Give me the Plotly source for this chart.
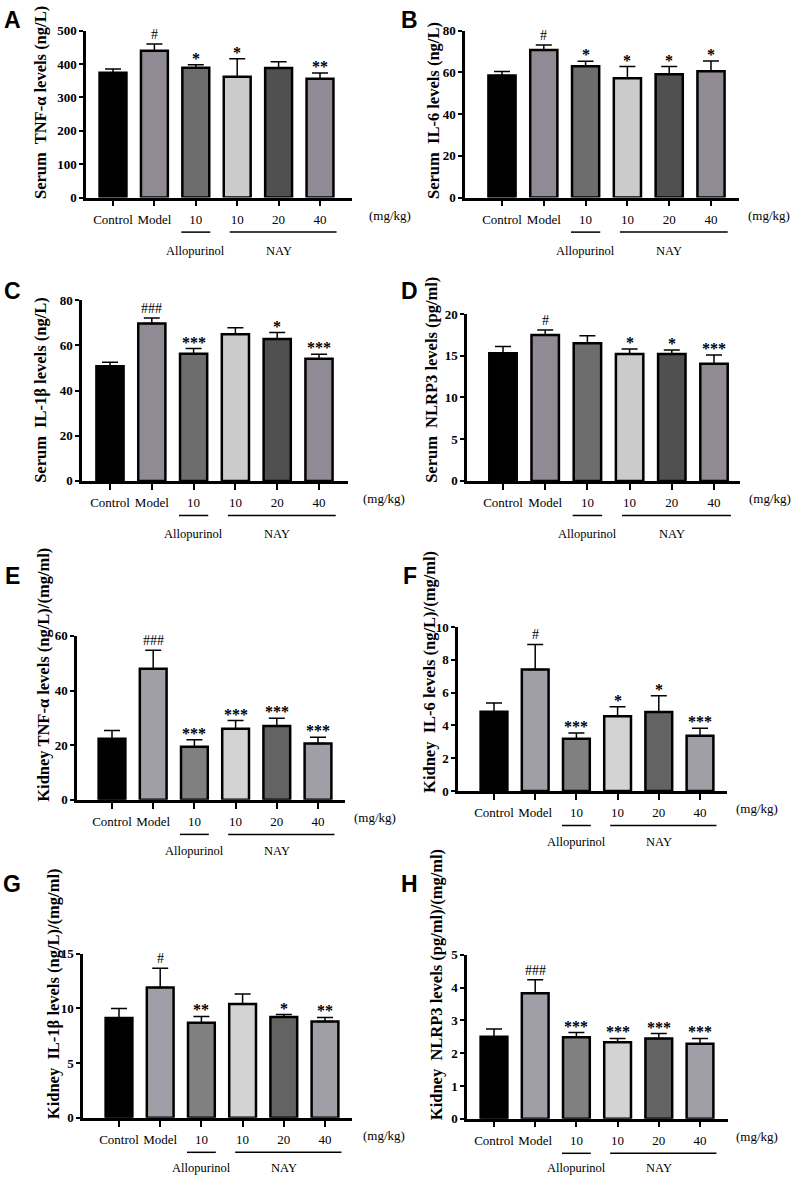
import plotly.graph_objects as go

W, H = 796, 1185

groups = ["Control", "Model", "10", "10", "20", "40"]
group_names = ["Allopurinol", "NAY"]
unit_label = "(mg/kg)"

colors_serum = ["#000000", "#8f8a94", "#6d6d6d", "#cbcbcb", "#505050", "#8f8a94"]
colors_kidney = ["#000000", "#a09ea6", "#808080", "#d3d3d3", "#636363", "#a09ea6"]

# ---- data (mean, upper error, significance) ----
serum_tnf_mean = [374, 440, 389, 362, 388, 356]
serum_tnf_err = [11, 20, 9, 54, 19, 17]
serum_tnf_sig = ["", "#", "*", "*", "", "**"]

serum_il6_mean = [58.5, 70.8, 62.9, 57.2, 59.1, 60.5]
serum_il6_err = [1.9, 2.3, 2.4, 5.6, 3.7, 5.0]
serum_il6_sig = ["", "#", "*", "*", "*", "*"]

serum_il1b_mean = [50.8, 69.7, 56.3, 64.9, 62.8, 54.1]
serum_il1b_err = [1.7, 2.4, 2.3, 2.9, 2.9, 2.0]
serum_il1b_sig = ["", "###", "***", "", "*", "***"]

serum_nlrp3_mean = [15.3, 17.5, 16.5, 15.2, 15.2, 14.05]
serum_nlrp3_err = [0.8, 0.6, 0.9, 0.6, 0.5, 1.05]
serum_nlrp3_sig = ["", "#", "", "*", "*", "***"]

kidney_tnf_mean = [22.4, 48.0, 19.4, 26.0, 27.0, 20.6]
kidney_tnf_err = [3.0, 6.8, 2.6, 3.0, 2.9, 2.3]
kidney_tnf_sig = ["", "###", "***", "***", "***", "***"]

kidney_il6_mean = [4.83, 7.41, 3.19, 4.55, 4.81, 3.37]
kidney_il6_err = [0.54, 1.53, 0.34, 0.58, 1.0, 0.46]
kidney_il6_sig = ["", "#", "***", "*", "*", "***"]

kidney_il1b_mean = [9.12, 11.93, 8.7, 10.42, 9.21, 8.82]
kidney_il1b_err = [0.88, 1.76, 0.57, 0.91, 0.24, 0.36]
kidney_il1b_sig = ["", "#", "**", "", "*", "**"]

kidney_nlrp3_mean = [2.5, 3.83, 2.49, 2.33, 2.45, 2.29]
kidney_nlrp3_err = [0.24, 0.41, 0.14, 0.12, 0.15, 0.16]
kidney_nlrp3_sig = ["", "###", "***", "***", "***", "***"]

titles = [
    "Serum  TNF-α levels (ng/L)",
    "Serum  IL-6 levels (ng/L)",
    "Serum  IL-1β levels (ng/L)",
    "Serum  NLRP3 levels (pg/ml)",
    "Kidney TNF-α levels (ng/L)/(mg/ml)",
    "Kidney  IL-6 levels (ng/L)/(mg/ml)",
    "Kidney  IL-1β levels (ng/L)/(mg/ml)",
    "Kidney  NLRP3 levels (pg/ml)/(mg/ml)",
]
letters = ["A", "B", "C", "D", "E", "F", "G", "H"]
ymax = [500, 80, 80, 20, 60, 10, 15, 5]
dticks = [100, 20, 20, 5, 20, 2, 5, 1]

means = [serum_tnf_mean, serum_il6_mean, serum_il1b_mean, serum_nlrp3_mean,
         kidney_tnf_mean, kidney_il6_mean, kidney_il1b_mean, kidney_nlrp3_mean]
errs = [serum_tnf_err, serum_il6_err, serum_il1b_err, serum_nlrp3_err,
        kidney_tnf_err, kidney_il6_err, kidney_il1b_err, kidney_nlrp3_err]
sigs = [serum_tnf_sig, serum_il6_sig, serum_il1b_sig, serum_nlrp3_sig,
        kidney_tnf_sig, kidney_il6_sig, kidney_il1b_sig, kidney_nlrp3_sig]

# ---- layout geometry (pixels): axis left, axis right, first bar, last bar, top, zero,
#      title x, unit label x, letter x, letter y, group-label offset
geom = [
    (86, 352, 113, 320, 24, 193, 40, 390, 12, 13, 54),
    (465, 739, 502, 711, 24, 193, 433, 769, 410, 13, 54),
    (82, 348, 110, 319, 297, 480, 41, 384, 12, 288, 54),
    (467, 740, 503, 714, 311, 480, 432, 770, 410, 288, 54),
    (77, 345, 112, 318, 637, 803, 44, 375, 12, 576, 52),
    (458, 727, 494, 700, 628, 794, 430, 757, 410, 576, 52),
    (83, 352, 119, 325, 959, 1125, 53, 384, 12, 888, 51),
    (467, 728, 494, 700, 960, 1126, 436, 757, 410, 888, 50),
]

SERIF = "Liberation Serif"
fig = go.Figure()
layout = dict(width=W, height=H, margin=dict(l=0, r=0, t=0, b=0),
              paper_bgcolor="white", plot_bgcolor="white", showlegend=False)
annotations = []
shapes = []

def px_x(p):
    return p / W

def px_y(p):
    return 1 - p / H

for k in range(8):
    n = k + 1
    xa = "xaxis" if n == 1 else f"xaxis{n}"
    ya = "yaxis" if n == 1 else f"yaxis{n}"
    xr = "x" if n == 1 else f"x{n}"
    yr = "y" if n == 1 else f"y{n}"
    left, right, c0, c5, top, zero, tx, ux, lx, ly, goff = geom[k]
    s = (c5 - c0) / 5.0
    cols = colors_serum if k < 4 else colors_kidney
    xs = list(range(len(groups)))

    fig.add_trace(go.Bar(
        x=xs, y=means[k], width=0.65, xaxis=xr, yaxis=yr,
        marker=dict(color=cols, line=dict(color="black", width=2.5)),
        error_y=dict(type="data", symmetric=False, array=errs[k],
                     arrayminus=[0] * len(xs), color="black",
                     thickness=1.5, width=8),
        hoverinfo="skip",
    ))

    layout[xa] = dict(domain=[px_x(left), px_x(right)],
                      range=[(left - c0) / s, (right - c0) / s],
                      anchor=yr, tickvals=xs, ticktext=groups,
                      showline=True, linewidth=2.5, linecolor="black",
                      ticks="outside", ticklen=6, tickwidth=2, tickcolor="black",
                      ticklabelstandoff=2,
                      showgrid=False, zeroline=False, fixedrange=True,
                      tickfont=dict(family=SERIF, size=13, color="black"))
    layout[ya] = dict(domain=[px_y(zero), px_y(top)], range=[0, ymax[k]],
                      tick0=0, dtick=dticks[k], anchor=xr,
                      showline=True, linewidth=2.5, linecolor="black",
                      ticks="outside", ticklen=4, tickwidth=2, tickcolor="black",
                      showgrid=False, zeroline=False, fixedrange=True,
                      tickfont=dict(family=SERIF, size=13, color="black", weight="bold"))

    # significance marks
    for i in xs:
        if sigs[k][i]:
            star = sigs[k][i].startswith("*")
            annotations.append(dict(
                x=i, y=means[k][i] + errs[k][i], xref=xr, yref=yr,
                text=sigs[k][i], showarrow=False, xanchor="center", yanchor="bottom",
                yshift=-4 if star else 0,
                font=dict(family=SERIF, size=16 if star else 14, color="black",
                          weight="bold" if star else "normal")))

    # y title
    annotations.append(dict(
        x=px_x(tx), y=px_y(zero + 4), xref="paper", yref="paper",
        text=titles[k], textangle=-90, showarrow=False,
        xanchor="center", yanchor="bottom",
        font=dict(family=SERIF, size=16.5, color="black", weight="bold")))

    # unit label
    annotations.append(dict(
        x=px_x(ux), y=px_y(zero + 18), xref="paper", yref="paper",
        text=unit_label, showarrow=False, xanchor="center", yanchor="middle",
        font=dict(family=SERIF, size=13, color="black")))

    # group lines and labels
    line_y = px_y(zero + 35)
    lab_y = px_y(zero + goff)
    shapes.append(dict(type="line", xref=xr, yref="paper",
                       x0=2 - 0.35, x1=2 + 0.35, y0=line_y, y1=line_y,
                       line=dict(color="black", width=1.5)))
    shapes.append(dict(type="line", xref=xr, yref="paper",
                       x0=3 - 0.18, x1=5 + 0.4, y0=line_y, y1=line_y,
                       line=dict(color="black", width=1.5)))
    annotations.append(dict(x=2, y=lab_y, xref=xr, yref="paper", text=group_names[0],
                            showarrow=False, xanchor="center", yanchor="middle",
                            font=dict(family=SERIF, size=12.5, color="black")))
    annotations.append(dict(x=4, y=lab_y, xref=xr, yref="paper", text=group_names[1],
                            showarrow=False, xanchor="center", yanchor="middle",
                            font=dict(family=SERIF, size=12.5, color="black")))

    # panel letter
    annotations.append(dict(x=px_x(lx), y=px_y(ly), xref="paper", yref="paper",
                            text=letters[k], showarrow=False,
                            xanchor="center", yanchor="middle",
                            font=dict(family="Liberation Sans", size=23, color="black",
                                      weight="bold")))

layout["annotations"] = annotations
layout["shapes"] = shapes
fig.update_layout(**layout)
fig.write_html("out.html", config={"displayModeBar": False},
               post_script="document.body.style.margin='0';document.body.style.overflow='hidden';")
